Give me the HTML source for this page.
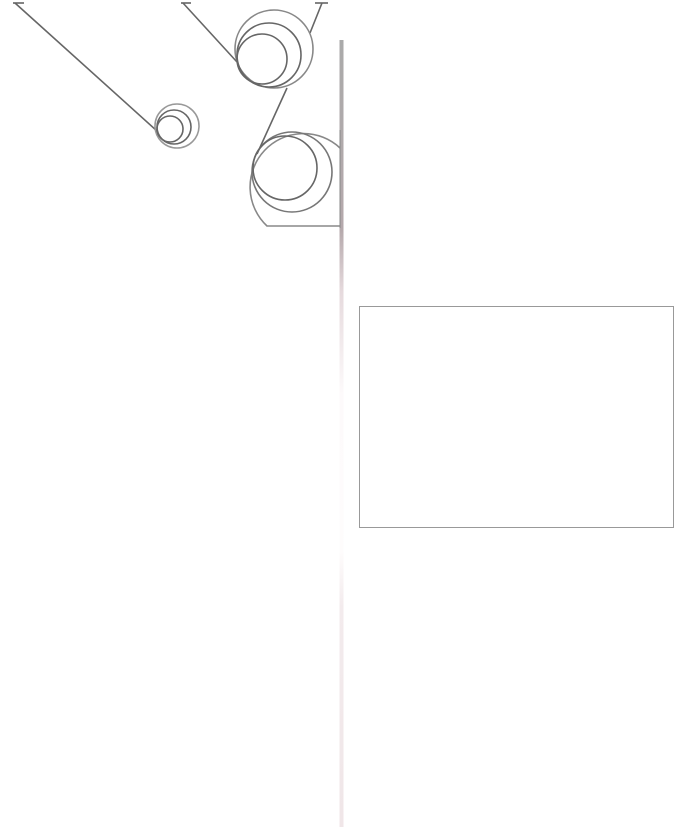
<!DOCTYPE html>
<html><head><meta charset="utf-8"><style>
html,body{margin:0;padding:0;background:#fff;width:688px;height:827px;overflow:hidden}
svg{display:block}
</style></head><body>
<svg width="688" height="827" viewBox="0 0 688 827" xmlns="http://www.w3.org/2000/svg">
<defs>
<linearGradient id="vg" gradientUnits="userSpaceOnUse" x1="0" y1="40" x2="0" y2="827">
<stop offset="0" stop-color="#aaa"/>
<stop offset="0.24" stop-color="#b5a9ac"/>
<stop offset="0.32" stop-color="#e6dadd"/>
<stop offset="0.45" stop-color="#fdfafb"/>
<stop offset="0.65" stop-color="#fefcfc"/>
<stop offset="0.72" stop-color="#f3ebed"/>
<stop offset="1" stop-color="#f0e6e8"/>
</linearGradient>
</defs>
<g fill="none" stroke="#666" stroke-width="1.6">
<line x1="15" y1="3" x2="157" y2="131"/>
<line x1="13" y1="3" x2="24" y2="3"/>
<circle cx="177" cy="126" r="22" stroke="#999"/>
<circle cx="174" cy="127" r="17"/>
<circle cx="170" cy="129" r="13"/>
<line x1="183" y1="3" x2="237" y2="62"/>
<line x1="181" y1="3" x2="191" y2="3"/>
<line x1="322" y1="3" x2="310" y2="33"/>
<line x1="315" y1="3" x2="328" y2="3"/>
<circle cx="274" cy="49" r="39" stroke="#888"/>
<circle cx="269" cy="55" r="32"/>
<circle cx="262" cy="59" r="25"/>
<line x1="287" y1="88" x2="257" y2="154"/>
<path d="M340 148 A49 49 0 1 0 267 226 L340 226" stroke="#888"/>
<circle cx="292" cy="172" r="40" stroke="#777"/>
<circle cx="285" cy="168" r="32"/>
</g>
<rect x="339.5" y="40" width="4" height="787" fill="url(#vg)"/>
<line x1="340" y1="130" x2="340" y2="228" stroke="#888" stroke-width="1"/>
<rect x="359.5" y="306.5" width="314" height="221" fill="none" stroke="#999" stroke-width="1"/>
</svg>
</body></html>
